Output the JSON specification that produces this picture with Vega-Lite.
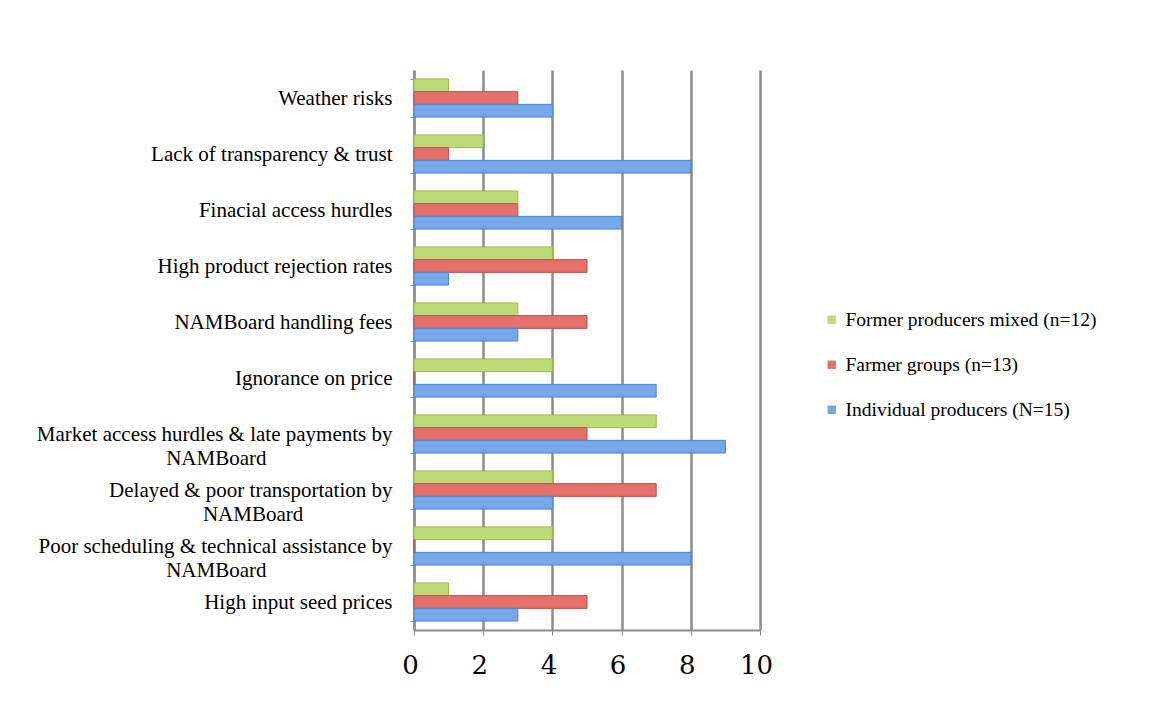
{
  "$schema": "https://vega.github.io/schema/vega-lite/v6.json",
  "autosize": {"type": "none"},
  "padding": {"left": 414, "top": 70, "right": 392, "bottom": 72},
  "width": 346,
  "height": 560,
  "background": "white",
  "data": {
    "values": [
      {"cat": "Weather risks", "group": "Former producers mixed (n=12)", "value": 1},
      {"cat": "Weather risks", "group": "Farmer groups (n=13)", "value": 3},
      {"cat": "Weather risks", "group": "Individual producers (N=15)", "value": 4},
      {"cat": "Lack of transparency & trust", "group": "Former producers mixed (n=12)", "value": 2},
      {"cat": "Lack of transparency & trust", "group": "Farmer groups (n=13)", "value": 1},
      {"cat": "Lack of transparency & trust", "group": "Individual producers (N=15)", "value": 8},
      {"cat": "Finacial access hurdles", "group": "Former producers mixed (n=12)", "value": 3},
      {"cat": "Finacial access hurdles", "group": "Farmer groups (n=13)", "value": 3},
      {"cat": "Finacial access hurdles", "group": "Individual producers (N=15)", "value": 6},
      {"cat": "High product rejection rates", "group": "Former producers mixed (n=12)", "value": 4},
      {"cat": "High product rejection rates", "group": "Farmer groups (n=13)", "value": 5},
      {"cat": "High product rejection rates", "group": "Individual producers (N=15)", "value": 1},
      {"cat": "NAMBoard handling fees", "group": "Former producers mixed (n=12)", "value": 3},
      {"cat": "NAMBoard handling fees", "group": "Farmer groups (n=13)", "value": 5},
      {"cat": "NAMBoard handling fees", "group": "Individual producers (N=15)", "value": 3},
      {"cat": "Ignorance on price", "group": "Former producers mixed (n=12)", "value": 4},
      {"cat": "Ignorance on price", "group": "Farmer groups (n=13)", "value": 0},
      {"cat": "Ignorance on price", "group": "Individual producers (N=15)", "value": 7},
      {"cat": "Market access hurdles & late payments by NAMBoard", "group": "Former producers mixed (n=12)", "value": 7},
      {"cat": "Market access hurdles & late payments by NAMBoard", "group": "Farmer groups (n=13)", "value": 5},
      {"cat": "Market access hurdles & late payments by NAMBoard", "group": "Individual producers (N=15)", "value": 9},
      {"cat": "Delayed & poor transportation by NAMBoard", "group": "Former producers mixed (n=12)", "value": 4},
      {"cat": "Delayed & poor transportation by NAMBoard", "group": "Farmer groups (n=13)", "value": 7},
      {"cat": "Delayed & poor transportation by NAMBoard", "group": "Individual producers (N=15)", "value": 4},
      {"cat": "Poor scheduling & technical assistance by NAMBoard", "group": "Former producers mixed (n=12)", "value": 4},
      {"cat": "Poor scheduling & technical assistance by NAMBoard", "group": "Farmer groups (n=13)", "value": 0},
      {"cat": "Poor scheduling & technical assistance by NAMBoard", "group": "Individual producers (N=15)", "value": 8},
      {"cat": "High input seed prices", "group": "Former producers mixed (n=12)", "value": 1},
      {"cat": "High input seed prices", "group": "Farmer groups (n=13)", "value": 5},
      {"cat": "High input seed prices", "group": "Individual producers (N=15)", "value": 3}
    ]
  },
  "mark": {"type": "bar", "strokeWidth": 1},
  "encoding": {
    "y": {
      "field": "cat",
      "type": "nominal",
      "sort": ["Weather risks", "Lack of transparency & trust", "Finacial access hurdles", "High product rejection rates", "NAMBoard handling fees", "Ignorance on price", "Market access hurdles & late payments by NAMBoard", "Delayed & poor transportation by NAMBoard", "Poor scheduling & technical assistance by NAMBoard", "High input seed prices"],
      "scale": {"paddingInner": 0.32, "paddingOuter": 0.16},
      "axis": {
        "title": null,
        "labelFont": "Liberation Serif",
        "labelFontSize": 21,
        "labelColor": "#000000",
        "labelPadding": 18,
        "labelLineHeight": 24,
        "labelLimit": 0,
        "domainColor": "#8c8c8c",
        "domainWidth": 2,
        "tickColor": "#8c8c8c",
        "tickSize": 4,
        "tickBand": "extent",
        "labelExpr": "datum.label == 'Market access hurdles & late payments by NAMBoard' ? ['Market access hurdles & late payments by', pad('NAMBoard', 32, '\u00a0', 'right') + '\u200b'] : datum.label == 'Delayed & poor transportation by NAMBoard' ? ['Delayed & poor transportation by', pad('NAMBoard', 25, '\u00a0', 'right') + '\u200b'] : datum.label == 'Poor scheduling & technical assistance by NAMBoard' ? ['Poor scheduling & technical assistance by', pad('NAMBoard', 32, '\u00a0', 'right') + '\u200b'] : datum.label"
      }
    },
    "yOffset": {
      "field": "group",
      "type": "nominal",
      "sort": ["Former producers mixed (n=12)", "Farmer groups (n=13)", "Individual producers (N=15)"]
    },
    "x": {
      "field": "value",
      "type": "quantitative",
      "scale": {"domain": [0, 10]},
      "axis": {
        "title": null,
        "values": [0, 2, 4, 6, 8, 10],
        "labelFont": "DejaVu Serif",
        "labelFontSize": 26,
        "labelColor": "#000000",
        "labelPadding": 17,
        "labelOffset": -4,
        "labelFlush": false,
        "domainColor": "#8c8c8c",
        "domainWidth": 2,
        "tickColor": "#8c8c8c",
        "tickSize": 5,
        "grid": true,
        "gridColor": "#8c8c8c",
        "gridWidth": 2.5
      }
    },
    "color": {
      "field": "group",
      "type": "nominal",
      "sort": ["Former producers mixed (n=12)", "Farmer groups (n=13)", "Individual producers (N=15)"],
      "scale": {
        "domain": ["Former producers mixed (n=12)", "Farmer groups (n=13)", "Individual producers (N=15)"],
        "range": ["#bddc75", "#e8706b", "#74a8ea"]
      },
      "legend": {
        "title": null,
        "orient": "none",
        "legendX": 408,
        "legendY": 240,
        "symbolType": "square",
        "symbolSize": 70,
        "symbolStrokeWidth": 0,
        "labelFont": "Liberation Serif",
        "labelFontSize": 19.5,
        "labelColor": "#000000",
        "labelOffset": 4,
        "rowPadding": 24,
        "labelLimit": 0
      }
    },
    "stroke": {
      "field": "group",
      "type": "nominal",
      "scale": {
        "domain": ["Former producers mixed (n=12)", "Farmer groups (n=13)", "Individual producers (N=15)"],
        "range": ["#98b955", "#b8504c", "#4f83c4"]
      },
      "legend": null
    }
  },
  "config": {
    "view": {"stroke": null}
  }
}
